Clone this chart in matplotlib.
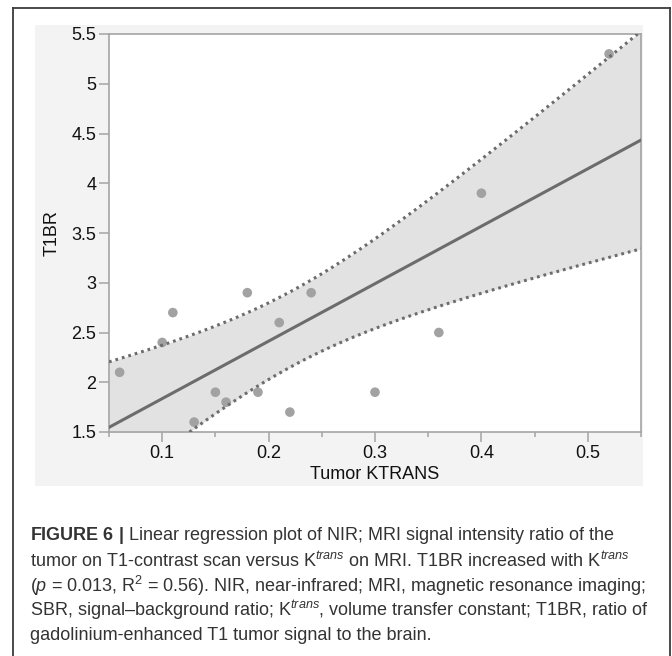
import numpy as np
import matplotlib
matplotlib.use('Agg')
import matplotlib.pyplot as plt
from matplotlib.patches import Rectangle
from matplotlib.lines import Line2D

# values
ktrans = [0.06, 0.10, 0.11, 0.13, 0.15, 0.16, 0.18, 0.19, 0.21, 0.22, 0.24, 0.30, 0.36, 0.40, 0.52]
t1br = [2.1, 2.4, 2.7, 1.6, 1.9, 1.8, 2.9, 1.9, 2.6, 1.7, 2.9, 1.9, 2.5, 3.9, 5.3]

x_ticks = [0.1, 0.2, 0.3, 0.4, 0.5]
x_minor = [0.05, 0.15, 0.25, 0.35, 0.45, 0.55]
y_ticks = [1.5, 2, 2.5, 3, 3.5, 4, 4.5, 5, 5.5]
y_labels = ['1.5', '2', '2.5', '3', '3.5', '4', '4.5', '5', '5.5']

caption = [
    r"$\mathbf{FIGURE\ 6\ |}$ Linear regression plot of NIR; MRI signal intensity ratio of the",
    r"tumor on T1-contrast scan versus K$^{\mathit{trans}}$ on MRI. T1BR increased with K$^{\mathit{trans}}$",
    r"($\mathit{p}$ = 0.013, R$^{2}$ = 0.56). NIR, near-infrared; MRI, magnetic resonance imaging;",
    r"SBR, signal–background ratio; K$^{\mathit{trans}}$, volume transfer constant; T1BR, ratio of",
    "gadolinium-enhanced T1 tumor signal to the brain.",
]

plt.rcParams['font.family'] = ['Liberation Sans', 'DejaVu Sans']
plt.rcParams['mathtext.fontset'] = 'custom'
plt.rcParams['mathtext.rm'] = 'Liberation Sans'
plt.rcParams['mathtext.it'] = 'Liberation Sans:italic'
plt.rcParams['mathtext.bf'] = 'Liberation Sans:bold'

# linear fit with 95% confidence band of the mean
x = np.array(ktrans)
y = np.array(t1br)
n = len(x)
slope, icpt = np.polyfit(x, y, 1)
s = np.sqrt(np.sum((y - (slope * x + icpt)) ** 2) / (n - 2))
t_crit = 2.160  # t(0.975, df=13)
xs = np.linspace(0.05, 0.55, 200)
fit = slope * xs + icpt
half = t_crit * s * np.sqrt(1 / n + (xs - x.mean()) ** 2 / np.sum((x - x.mean()) ** 2))

W, H = 672, 656
fig = plt.figure(figsize=(W / 100, H / 100), dpi=100)

# grey panel behind the chart and outer frame
fig.add_artist(Rectangle((35 / W, 1 - 486 / H), 608 / W, 461 / H, transform=fig.transFigure,
                         facecolor='#f3f3f3', edgecolor='none', zorder=-5))
frame = dict(color='#3c3c3c', lw=1.3, transform=fig.transFigure)
fig.add_artist(Line2D([13 / W, 13 / W], [0, 1 - 8 / H], **frame))
fig.add_artist(Line2D([13 / W, 670 / W], [1 - 8 / H, 1 - 8 / H], **frame))
fig.add_artist(Line2D([670 / W, 670 / W], [0, 1 - 8 / H], **frame))

ax = fig.add_axes([109 / W, 1 - 432 / H, 532 / W, 398 / H])
ax.set_facecolor('white')

ax.fill_between(xs, fit - half, fit + half, color='#e2e2e2', lw=0, zorder=1)
ax.scatter(x, y, s=48, color='#a2a2a2', edgecolors='none', zorder=2)
ax.plot(xs, fit, color='#6c6c6c', lw=2.2, zorder=3)
ax.plot(xs, fit + half, color='#6c6c6c', lw=2.2, ls=(0, (0.9, 1.3)), zorder=3)
ax.plot(xs, fit - half, color='#6c6c6c', lw=2.2, ls=(0, (0.9, 1.3)), zorder=3)

ax.set_xlim(0.05, 0.55)
ax.set_ylim(1.5, 5.5)
ax.set_xticks(x_ticks)
ax.set_xticklabels([str(v) for v in x_ticks])
ax.set_xticks(x_minor, minor=True)
ax.set_yticks(y_ticks)
ax.set_yticklabels(y_labels)

for sp in ax.spines.values():
    sp.set_color('#a4a4a4')
    sp.set_linewidth(1.2)
ax.tick_params(axis='both', which='major', length=7, width=1.1, color='#a4a4a4',
               labelsize=13, labelcolor='#111111', pad=2)
ax.tick_params(axis='x', which='minor', length=3.5, width=1.1, color='#a4a4a4')

ax.set_xlabel('Tumor KTRANS', fontsize=13, color='#111111', labelpad=3)
ax.set_ylabel('T1BR', fontsize=13, color='#111111', labelpad=8)

for i, line in enumerate(caption):
    fig.text(30 / W, 1 - (536 + 24.8 * i) / H, line, fontsize=13, color='#333333',
             ha='left', va='center')

fig.savefig('out.png', dpi=100)
